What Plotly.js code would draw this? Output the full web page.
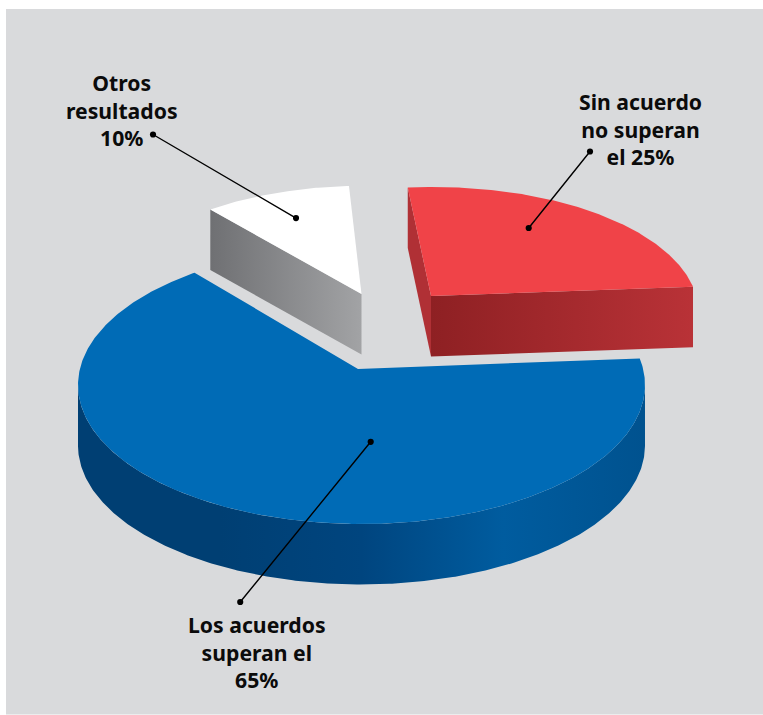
<!DOCTYPE html>
<html><head><meta charset="utf-8">
<script src="https://cdn.plot.ly/plotly-3.0.1.min.js"></script>
<style>html,body{margin:0;padding:0;background:#fff}</style></head>
<body><div id="chart" style="width:763px;height:715px"></div>
<script>
// Data, in drawing order going counter-clockwise from the start angle
const categories = ["Sin acuerdo no superan el", "Otros resultados", "Los acuerdos superan el"];
const shares = [25, 10, 65];
const labelLines = [["Sin acuerdo", "no superan", "el 25%"], ["Otros", "resultados", "10%"], ["Los acuerdos", "superan el", "65%"]];

// Projection of the pie (pixel-like plot units)
const START_ANGLE = 5, DEPTH = 60.5;
const geometry = [
  {apex:[431,296], centre:[434,312], rx:264.5, ry:125, k:2.45, rot:0, top:"#f04348", radial:[{end:0,scale:["#8e2023","#b93237"]},{end:1,scale:["#b03035","#b03035"]}], arc:null},
  {apex:[361.5,294], centre:[364.5,310], rx:262, ry:124.3, k:2.21, rot:-2, top:"#ffffff", radial:[{end:1,scale:["#6f7073","#a2a3a5"]}], arc:null},
  {apex:[358,369], centre:[361.5,385], rx:283.5, ry:139, k:2, rot:-0.7, top:"#006bb6", radial:[], arc:["#003f73","#003f73","#00457f","#005c9f","#00528f"]}
];
const labelStyle = [
  {x:640, y:128.8, size:21.2}, {x:122, y:109.5, size:21.2}, {x:256.5, y:651.5, size:21.2}
];
const leaders = [[590,151.5,527.5,229.5],[153,134.5,297.5,219],[370.7,441.8,239,603.5]];

function rim(g, deg){
  const t = deg*Math.PI/180;
  let ux = Math.cos(t)*g.k/g.rx, uy = -Math.sin(t)/g.ry;
  const n = Math.hypot(ux,uy); ux/=n; uy/=n;
  const ax = (g.apex[0]-g.centre[0])/g.rx, ay = (g.apex[1]-g.centre[1])/g.ry;
  const b = ax*ux+ay*uy, c = ax*ax+ay*ay-1, s = -b+Math.sqrt(b*b-c);
  return [g.centre[0]+g.rx*(ax+s*ux), g.centre[1]+g.ry*(ay+s*uy)];
}
function gradientFace(xs, ys, stops){
  return {type:"scatter", mode:"lines", x:xs, y:ys, fill:"toself", hoverinfo:"skip", showlegend:false,
    line:{width:0, color:"rgba(0,0,0,0)"},
    fillcolor:stops[0],
    fillgradient:{type:"horizontal", colorscale:stops.map((c,i)=>[i/(stops.length-1),c])}};
}
const traces = [];
let angle = START_ANGLE;
// Blue first so the other two slices sit over it, as in the picture
const order = [2,0,1];
const bounds = shares.map((s,i)=>{const r=[angle+geometry[i].rot,angle+geometry[i].rot+s*3.6]; angle+=s*3.6; return r;});
order.forEach(i=>{
  const g = geometry[i], [a0,a1] = bounds[i], pts = [];
  for(let d=a0; d<a1; d+=0.5) pts.push(rim(g,d));
  pts.push(rim(g,a1));
  if(g.arc){
    const low = pts.filter(p=>p[1]>=g.centre[1]).sort((p,q)=>p[0]-q[0]);
    const xs = low.map(p=>p[0]).concat(low.map(p=>p[0]).reverse());
    const ys = low.map(p=>p[1]).concat(low.map(p=>p[1]+DEPTH).reverse());
    traces.push(gradientFace(xs,ys,g.arc));
  }
  g.radial.forEach(f=>{
    const e = f.end ? pts[pts.length-1] : pts[0];
    traces.push(gradientFace(
      [g.apex[0],e[0],e[0],g.apex[0],g.apex[0]],
      [g.apex[1],e[1],e[1]+DEPTH,g.apex[1]+DEPTH,g.apex[1]], f.scale));
  });
  traces.push({type:"scatter", mode:"lines", name:categories[i]+" "+shares[i]+"%", hoverinfo:"skip", showlegend:false,
    x:[g.apex[0]].concat(pts.map(p=>p[0]),[g.apex[0]]),
    y:[g.apex[1]].concat(pts.map(p=>p[1]),[g.apex[1]]),
    fill:"toself", fillcolor:g.top, line:{width:0,color:"rgba(0,0,0,0)"}});
});

const annotations = labelLines.map((lines,i)=>({
  xref:"x", yref:"y", x:labelStyle[i].x, y:labelStyle[i].y, showarrow:false, align:"center",
  xanchor:"center", yanchor:"middle", text:lines.map(l=>"<b>"+l+"</b>").join("<br>"),
  font:{family:"Noto Sans", size:labelStyle[i].size, color:"#0b0b0b"}
})).concat(leaders.map(l=>({
  xref:"x", yref:"y", axref:"x", ayref:"y", x:l[0], y:l[1], ax:l[2], ay:l[3], text:"",
  showarrow:true, arrowhead:6, startarrowhead:6, arrowside:"end+start", arrowsize:1.1, startarrowsize:1.1,
  arrowwidth:1.4, arrowcolor:"#000", standoff:0, startstandoff:0
})));

Plotly.newPlot("chart", traces, {
  width:763, height:715, margin:{l:0,r:0,t:0,b:0}, showlegend:false,
  paper_bgcolor:"#ffffff", plot_bgcolor:"rgba(0,0,0,0)",
  xaxis:{range:[0,763], visible:false, fixedrange:true},
  yaxis:{range:[715,0], visible:false, fixedrange:true},
  shapes:[{type:"rect", xref:"x", yref:"y", x0:6, x1:763, y0:9, y1:714.5, fillcolor:"#d9dadc", line:{width:0}, layer:"below"}],
  annotations
}, {displayModeBar:false, staticPlot:true});
</script></body></html>
